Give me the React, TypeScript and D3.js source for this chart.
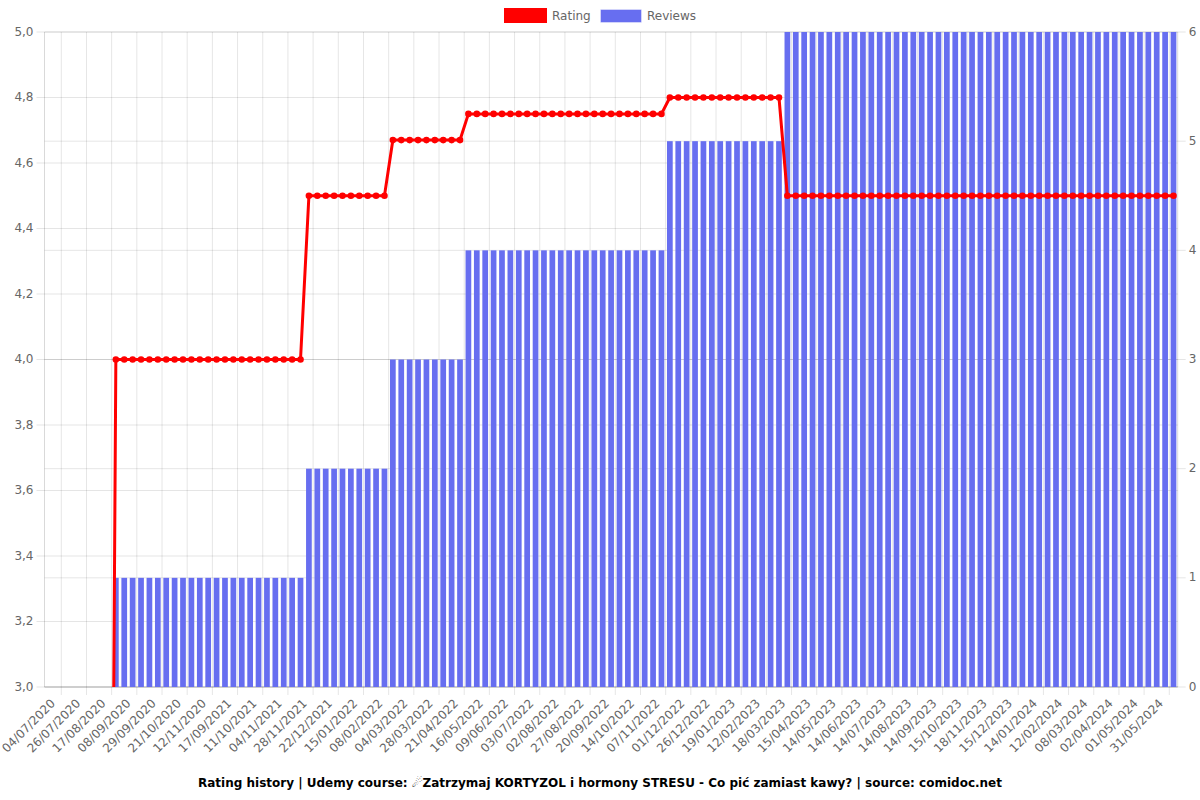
import React from "react";
import * as d3 from "d3";

const tickLabels = [
  "04/07/2020","26/07/2020","17/08/2020","08/09/2020","29/09/2020","21/10/2020","12/11/2020",
  "17/09/2021","11/10/2021","04/11/2021","28/11/2021","22/12/2021","15/01/2022","08/02/2022",
  "04/03/2022","28/03/2022","21/04/2022","16/05/2022","09/06/2022","03/07/2022","02/08/2022",
  "27/08/2022","20/09/2022","14/10/2022","07/11/2022","01/12/2022","26/12/2022","19/01/2023",
  "12/02/2023","18/03/2023","15/04/2023","14/05/2023","14/06/2023","14/07/2023","14/08/2023",
  "14/09/2023","15/10/2023","18/11/2023","15/12/2023","14/01/2024","12/02/2024","08/03/2024",
  "02/04/2024","01/05/2024","31/05/2024"
];

const rating = [
  0,0,0,0,0,0,0,0,
  4,4,4,4,4,4,4,4,4,4,4,4,4,4,4,4,4,4,4,4,4,4,4,
  4.5,4.5,4.5,4.5,4.5,4.5,4.5,4.5,4.5,4.5,
  4.67,4.67,4.67,4.67,4.67,4.67,4.67,4.67,4.67,
  4.75,4.75,4.75,4.75,4.75,4.75,4.75,4.75,4.75,4.75,4.75,4.75,4.75,4.75,4.75,4.75,4.75,4.75,4.75,4.75,4.75,4.75,4.75,4.75,
  4.8,4.8,4.8,4.8,4.8,4.8,4.8,4.8,4.8,4.8,4.8,4.8,4.8,4.8,
  4.5,4.5,4.5,4.5,4.5,4.5,4.5,4.5,4.5,4.5,4.5,4.5,4.5,4.5,4.5,4.5,4.5,4.5,4.5,4.5,4.5,4.5,4.5,4.5,
  4.5,4.5,4.5,4.5,4.5,4.5,4.5,4.5,4.5,4.5,4.5,4.5,4.5,4.5,4.5,4.5,4.5,4.5,4.5,4.5,4.5,4.5,4.5
];

const reviews = [
  0,0,0,0,0,0,0,0,
  1,1,1,1,1,1,1,1,1,1,1,1,1,1,1,1,1,1,1,1,1,1,1,
  2,2,2,2,2,2,2,2,2,2,
  3,3,3,3,3,3,3,3,3,
  4,4,4,4,4,4,4,4,4,4,4,4,4,4,4,4,4,4,4,4,4,4,4,4,
  5,5,5,5,5,5,5,5,5,5,5,5,5,5,
  6,6,6,6,6,6,6,6,6,6,6,6,6,6,6,6,6,6,6,6,6,6,6,6,
  6,6,6,6,6,6,6,6,6,6,6,6,6,6,6,6,6,6,6,6,6,6,6
];

const ratingTicks = [3, 3.2, 3.4, 3.6, 3.8, 4, 4.2, 4.4, 4.6, 4.8, 5];
const reviewTicks = [0, 1, 2, 3, 4, 5, 6];
const labelStep = 3;

const title =
  "Rating history | Udemy course: \u2604Zatrzymaj KORTYZOL i hormony STRESU - Co pi\u0107 zamiast kawy? | source: comidoc.net";

const W = 1200, H = 800;
const L = 44.5, R = 1177.7, T = 32, B = 687;
const FONT = "DejaVu Sans, Verdana, sans-serif";
const RED = "rgb(255,0,0)";
const BLUE = "rgb(103,110,240)";
const GRID = "rgba(0,0,0,0.1)";

export default function App() {
  const n = rating.length;
  const x = d3.scaleBand<number>().domain(d3.range(n)).range([L, R]).padding(0);
  const bw = x.bandwidth();
  const cx = (i: number) => (x(i) as number) + bw / 2;
  const yL = d3.scaleLinear().domain([3, 5]).range([B, T]);
  const yR = d3.scaleLinear().domain([0, 6]).range([B, T]);

  const shown = d3.range(0, n, labelStep);
  const gridX: number[] = [];
  shown.forEach((idx, k) => {
    if (k === 0) return;
    gridX.push(cx(idx) - (labelStep * bw) / 2);
  });
  gridX.push(cx(shown[shown.length - 1]) + (labelStep * bw) / 2);

  const line = d3
    .line<number>()
    .x((_, i) => cx(i))
    .y((d) => yL(d));

  const barW = bw * 0.68;

  return (
    <svg
      width={W}
      height={H}
      style={{ position: "absolute", left: 0, top: 0, background: "#fff" }}
      fontFamily={FONT}
    >
      <defs>
        <clipPath id="plot">
          <rect x={L} y={T - 4} width={R - L} height={B - T + 4} />
        </clipPath>
      </defs>

      {ratingTicks.map((t) => (
        <line key={"gl" + t} x1={L - 8} x2={R} y1={yL(t)} y2={yL(t)} stroke={GRID} />
      ))}
      {reviewTicks.map((t) => (
        <line key={"gr" + t} x1={L} x2={R + 8} y1={yR(t)} y2={yR(t)} stroke={GRID} />
      ))}
      {gridX.map((gx, i) => (
        <line key={"gx" + i} x1={gx} x2={gx} y1={T} y2={B + 8} stroke={GRID} />
      ))}
      <line x1={L} x2={L} y1={T} y2={B} stroke="rgba(0,0,0,0.15)" />
      <line x1={R} x2={R} y1={T} y2={B} stroke="rgba(0,0,0,0.15)" />
      <line x1={L} x2={R} y1={B} y2={B} stroke="rgba(0,0,0,0.2)" />

      <g>
        {reviews.map((v, i) =>
          v > 0 ? (
            <rect
              key={"b" + i}
              x={cx(i) - barW / 2}
              y={yR(v)}
              width={barW}
              height={yR(0) - yR(v)}
              fill={BLUE}
            />
          ) : null
        )}
      </g>

      <g clipPath="url(#plot)">
        <path d={line(rating) || ""} fill="none" stroke={RED} strokeWidth={3} strokeLinejoin="round" />
        {rating.map((v, i) => (
          <circle key={"p" + i} cx={cx(i)} cy={yL(v)} r={3.3} fill={RED} />
        ))}
      </g>

      {ratingTicks.map((t) => (
        <text
          key={"tl" + t}
          x={L - 11}
          y={yL(t)}
          textAnchor="end"
          dominantBaseline="middle"
          fontSize={12}
          fill="#666"
        >
          {t.toFixed(1).replace(".", ",")}
        </text>
      ))}
      {reviewTicks.map((t) => (
        <text
          key={"tr" + t}
          x={R + 11}
          y={yR(t)}
          textAnchor="start"
          dominantBaseline="middle"
          fontSize={12}
          fill="#666"
        >
          {t}
        </text>
      ))}
      {shown.map((idx, k) => (
        <text
          key={"xl" + idx}
          transform={`translate(${cx(idx) + 1},${B + 11}) rotate(-45)`}
          textAnchor="end"
          dominantBaseline="hanging"
          fontSize={12}
          fill="#666"
        >
          {tickLabels[k]}
        </text>
      ))}

      <g>
        <rect x={505.5} y={9.5} width={40} height={12} fill={RED} stroke={RED} strokeWidth={3} />
        <text x={552} y={16} dominantBaseline="middle" fontSize={12} fill="#666">
          Rating
        </text>
        <rect x={601} y={10} width={40} height={12} fill={BLUE} stroke="rgba(103,110,240,0.6)" strokeWidth={1} />
        <text x={647} y={16} dominantBaseline="middle" fontSize={12} fill="#666">
          Reviews
        </text>
      </g>

      <text
        x={600}
        y={783}
        textAnchor="middle"
        dominantBaseline="middle"
        fontSize={12}
        fontWeight="bold"
        fill="#000"
      >
        {title}
      </text>
    </svg>
  );
}
